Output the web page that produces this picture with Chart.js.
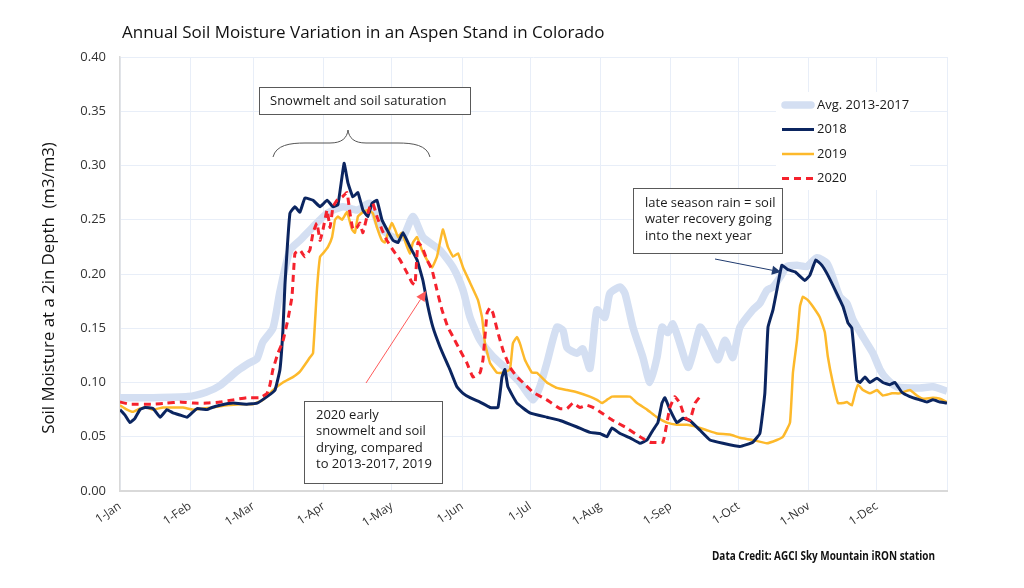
<!DOCTYPE html>
<html>
<head>
<meta charset="utf-8">
<script src="https://cdn.jsdelivr.net/npm/chart.js@4.4.1/dist/chart.umd.min.js"></script>
<style>
  body { margin: 0; background: #fff; }
  canvas { display: block; }
</style>
</head>
<body>
<canvas id="soilChart" width="1024" height="588"></canvas>
<script>
// month starts as day-of-year, plus the end of the year for the last gridline
const monthDays = [0, 31, 59, 90, 120, 151, 181, 212, 243, 273, 304, 334, 365];
const monthLabels = ['1-Jan', '1-Feb', '1-Mar', '1-Apr', '1-May', '1-Jun', '1-Jul', '1-Aug', '1-Sep', '1-Oct', '1-Nov', '1-Dec', ''];
const yTickValues = [0, 0.05, 0.10, 0.15, 0.20, 0.25, 0.30, 0.35, 0.40];

// Avg. 2013-2017
const avgDays = [0, 13, 30, 38, 44, 52, 57, 60.5, 63, 67.5, 70.6, 75, 79.4, 85, 91.4, 98.4, 104.6, 110.3, 114.7, 120.5,
  124.9, 129.3, 133.7, 141.2, 147, 151.4, 154.5, 158.9, 164.6, 170.8, 176.5, 182.3, 185.3, 188.4, 192.8, 195.5, 197.3, 201.7, 204.3, 207.4,
  210.5, 214, 216.2, 220.7, 222.9, 226.4, 230.8, 233.9, 237, 239.2, 241.8, 244, 247.1, 250.7, 252.9, 256, 258.2, 261.7, 264, 267,
  270.5, 273.6, 279.3, 282.4, 285.5, 288.2, 291.3, 294.4, 298.8, 303.2, 307.6, 312, 314.6, 317.7, 320.8, 323.5, 327.9, 332.3, 335.4, 338.5,
  342.9, 353, 358.8, 365];
const avgValues = [0.086, 0.086, 0.087, 0.091, 0.097, 0.111, 0.118, 0.122, 0.137, 0.150, 0.184, 0.222, 0.231, 0.243, 0.256, 0.262, 0.259, 0.265, 0.243, 0.234,
  0.234, 0.253, 0.234, 0.222, 0.206, 0.185, 0.160, 0.139, 0.124, 0.112, 0.100, 0.084, 0.096, 0.118, 0.151, 0.148, 0.132, 0.127, 0.131, 0.113,
  0.167, 0.160, 0.182, 0.188, 0.182, 0.151, 0.123, 0.100, 0.123, 0.151, 0.146, 0.154, 0.136, 0.114, 0.127, 0.151, 0.145, 0.130, 0.121, 0.139,
  0.123, 0.151, 0.167, 0.173, 0.185, 0.188, 0.197, 0.207, 0.208, 0.207, 0.215, 0.210, 0.197, 0.179, 0.173, 0.158, 0.142, 0.127, 0.112, 0.103,
  0.096, 0.095, 0.096, 0.092];

// 2018
const days2018 = [0, 2.2, 4.4, 6.6, 8.8, 11, 14.6, 17.7, 20.7, 23.4, 26.5, 29.6, 34, 38.4, 40.6, 44.1, 49.9, 56, 60.5, 64.9,
  68.4, 70.6, 71.9, 72.8, 75, 77.2, 79.4, 81.6, 85.2, 88.3, 91.4, 94, 96.2, 98.9, 100.6, 102.8, 105, 107.2, 109.4, 111.2,
  113.4, 115.6, 117.8, 120.5, 122.7, 124.9, 128, 131.1, 133.7, 135.9, 138.1, 141.2, 144.3, 145.6, 148.7, 151.4, 154.5, 158.9, 163.3, 166.8,
  168.6, 169.9, 171.2, 175.2, 180.9, 188.4, 194.2, 201.7, 207.4, 211.8, 214.9, 217.1, 220.7, 225.1, 229.5, 232.6, 235.2, 237.4, 239.2, 240.5,
  242.7, 245.8, 248.5, 251.5, 256, 260.4, 266.1, 273.6, 279.3, 282.4, 284.6, 286, 288.2, 289.9, 292.1, 294.8, 297.9, 302.3, 304.5, 307.1,
  309.8, 312.4, 316.4, 319.1, 321.3, 323, 325.2, 326.6, 328.8, 331, 334.1, 336.7, 339.8, 342, 345.1, 348.6, 353, 356.1, 358.8, 361.9, 365];
const values2018 = [0.075, 0.070, 0.063, 0.067, 0.075, 0.077, 0.076, 0.068, 0.075, 0.072, 0.070, 0.068, 0.076, 0.075, 0.077, 0.079, 0.081, 0.080, 0.081, 0.087,
  0.093, 0.112, 0.148, 0.190, 0.256, 0.262, 0.257, 0.270, 0.268, 0.262, 0.268, 0.262, 0.264, 0.302, 0.284, 0.271, 0.275, 0.259, 0.253, 0.265,
  0.268, 0.250, 0.241, 0.231, 0.229, 0.238, 0.225, 0.213, 0.194, 0.170, 0.151, 0.133, 0.118, 0.112, 0.096, 0.090, 0.086, 0.082, 0.077, 0.077,
  0.105, 0.112, 0.096, 0.081, 0.072, 0.068, 0.065, 0.059, 0.054, 0.053, 0.050, 0.058, 0.053, 0.049, 0.044, 0.047, 0.056, 0.063, 0.081, 0.086,
  0.075, 0.063, 0.067, 0.065, 0.056, 0.047, 0.044, 0.041, 0.045, 0.053, 0.090, 0.151, 0.167, 0.185, 0.208, 0.204, 0.202, 0.194, 0.199, 0.213,
  0.208, 0.199, 0.182, 0.170, 0.155, 0.150, 0.102, 0.100, 0.105, 0.100, 0.104, 0.100, 0.098, 0.100, 0.091, 0.087, 0.084, 0.082, 0.084, 0.082, 0.081];

// 2019
const days2019 = [0, 3.1, 5.7, 8.8, 11.9, 14.6, 19, 23.4, 27.8, 32.2, 36.6, 41, 47.2, 53, 58.7, 63.1, 67.5, 71.9, 76.3, 79.4,
  83.8, 85.2, 86.9, 88.3, 89.6, 91.8, 93.6, 94.9, 96.2, 98, 100.2, 102.4, 103.7, 105, 107.2, 109.4, 111.6, 113.4, 115.6, 116.9,
  118.3, 120, 121.4, 122.7, 124.4, 126.7, 128, 129.3, 131.1, 133.3, 135.5, 137.7, 139.9, 142.5, 144.7, 147, 149.2, 151.4, 154.5, 158,
  159.8, 161.1, 163.3, 166.4, 169, 172.1, 173.4, 175.2, 176.5, 178.7, 181.8, 184, 188.4, 192.8, 197.3, 201.7, 207.4, 210.5, 212.7, 214.9,
  217.1, 220.7, 225.1, 228.2, 232.6, 237, 241.4, 245.8, 250.2, 254.6, 259, 263.5, 269.2, 273.6, 279.3, 285.5, 289.9, 292.6, 295.7, 297,
  298.8, 300.1, 301.4, 303.6, 305.8, 308.9, 311.1, 312.4, 314.6, 316.9, 319.1, 320.8, 323, 324.4, 325.7, 327.9, 331, 334.1, 336.7, 340.7,
  344.2, 348.6, 351.7, 354.4, 358.8, 361.9, 365];
const values2019 = [0.079, 0.075, 0.073, 0.076, 0.077, 0.075, 0.077, 0.077, 0.077, 0.075, 0.076, 0.077, 0.079, 0.080, 0.080, 0.084, 0.093, 0.100, 0.105, 0.110,
  0.123, 0.127, 0.185, 0.216, 0.219, 0.225, 0.234, 0.250, 0.253, 0.250, 0.257, 0.241, 0.238, 0.253, 0.257, 0.259, 0.256, 0.243, 0.231, 0.229,
  0.238, 0.247, 0.241, 0.234, 0.238, 0.225, 0.219, 0.229, 0.234, 0.222, 0.213, 0.206, 0.216, 0.241, 0.225, 0.216, 0.219, 0.206, 0.192, 0.176,
  0.160, 0.136, 0.118, 0.109, 0.109, 0.112, 0.136, 0.142, 0.136, 0.121, 0.109, 0.109, 0.100, 0.095, 0.093, 0.091, 0.087, 0.084, 0.081, 0.084,
  0.087, 0.087, 0.087, 0.081, 0.075, 0.068, 0.063, 0.061, 0.061, 0.059, 0.056, 0.053, 0.052, 0.049, 0.047, 0.044, 0.047, 0.050, 0.063, 0.109,
  0.139, 0.170, 0.179, 0.176, 0.170, 0.160, 0.146, 0.124, 0.100, 0.081, 0.081, 0.082, 0.079, 0.090, 0.098, 0.093, 0.090, 0.093, 0.088, 0.090,
  0.090, 0.093, 0.088, 0.085, 0.086, 0.085, 0.082];

// 2020 (record stops mid-September)
const days2020 = [0, 4.4, 14.6, 20.7, 26.5, 32.2, 38.4, 44.1, 49.9, 56, 61.8, 64.9, 66.2, 67.5, 69.7, 71.9, 74.1, 75.9, 77.2, 79.4,
  81.6, 83.8, 85.2, 86.9, 88.3, 89.6, 91.4, 92.7, 94, 95.8, 98, 100.2, 101.5, 102.8, 104.6, 105.9, 107.2, 109, 110.3, 111.6,
  113.4, 115.6, 117.8, 120.5, 123.6, 126.7, 128.9, 130.2, 131.5, 133.3, 135.5, 137.7, 139.9, 142.1, 144.7, 147, 150, 153.1, 155.8, 158.9,
  160.2, 162, 163.3, 164.6, 166.8, 169, 172.1, 175.2, 177.8, 182.3, 188.4, 194.2, 197.3, 199.9, 203, 206.1, 208.7, 211.8, 217.6, 223.7,
  229.5, 233.9, 239.6, 241.4, 242.7, 244.9, 247.1, 249.3, 251.5, 253.8, 256];
const values2020 = [0.082, 0.080, 0.080, 0.081, 0.082, 0.081, 0.081, 0.082, 0.084, 0.086, 0.086, 0.090, 0.098, 0.112, 0.127, 0.138, 0.158, 0.179, 0.219, 0.222,
  0.216, 0.222, 0.238, 0.247, 0.231, 0.241, 0.259, 0.243, 0.262, 0.268, 0.271, 0.275, 0.256, 0.241, 0.243, 0.247, 0.238, 0.253, 0.262, 0.265,
  0.253, 0.241, 0.231, 0.222, 0.213, 0.201, 0.192, 0.190, 0.229, 0.225, 0.213, 0.204, 0.185, 0.167, 0.151, 0.142, 0.130, 0.118, 0.105, 0.109,
  0.121, 0.164, 0.169, 0.164, 0.146, 0.130, 0.114, 0.105, 0.100, 0.091, 0.084, 0.076, 0.076, 0.081, 0.077, 0.079, 0.077, 0.073, 0.065, 0.058,
  0.050, 0.045, 0.045, 0.063, 0.077, 0.087, 0.081, 0.068, 0.065, 0.081, 0.087];

const FONT = '"Open Sans", "DejaVu Sans", sans-serif';

function toPoints(days, values) {
  return days.map((d, i) => ({ x: d, y: values[i] }));
}

function drawArrow(ctx, x1, y1, x2, y2, color, head) {
  const ang = Math.atan2(y2 - y1, x2 - x1);
  ctx.save();
  ctx.strokeStyle = color;
  ctx.fillStyle = color;
  ctx.lineWidth = 1;
  ctx.beginPath();
  ctx.moveTo(x1, y1);
  ctx.lineTo(x2 - Math.cos(ang) * head, y2 - Math.sin(ang) * head);
  ctx.stroke();
  ctx.beginPath();
  ctx.moveTo(x2, y2);
  ctx.lineTo(x2 - head * Math.cos(ang) + head * 0.5 * Math.sin(ang), y2 - head * Math.sin(ang) - head * 0.5 * Math.cos(ang));
  ctx.lineTo(x2 - head * Math.cos(ang) - head * 0.5 * Math.sin(ang), y2 - head * Math.sin(ang) + head * 0.5 * Math.cos(ang));
  ctx.closePath();
  ctx.fill();
  ctx.restore();
}

function textBox(ctx, x, y, w, h, lines, tx, ty, lh) {
  ctx.save();
  ctx.fillStyle = '#fff';
  ctx.fillRect(x, y, w, h);
  ctx.strokeStyle = '#595959';
  ctx.lineWidth = 1;
  ctx.strokeRect(x + 0.5, y + 0.5, w, h);
  ctx.fillStyle = '#1a1a1a';
  ctx.font = '13px ' + FONT;
  ctx.textBaseline = 'middle';
  lines.forEach((l, i) => ctx.fillText(l, tx, ty + i * lh));
  ctx.restore();
}

// titles, legend, notes
const extras = {
  id: 'extras',
  afterDraw(chart) {
    const ctx = chart.ctx;
    ctx.save();
    ctx.fillStyle = '#111';
    ctx.font = '17px ' + FONT;
    ctx.textBaseline = 'middle';
    ctx.fillText('Annual Soil Moisture Variation in an Aspen Stand in Colorado', 122, 33);

    ctx.save();
    ctx.translate(49, 288);
    ctx.rotate(-Math.PI / 2);
    ctx.textAlign = 'center';
    ctx.font = '16.8px ' + FONT;
    ctx.fillText('Soil Moisture at a 2in Depth  (m3/m3)', 0, 0);
    ctx.restore();

    ctx.font = 'bold 12px ' + FONT;
    ctx.textAlign = 'right';
    ctx.fillStyle = '#111';
    ctx.fillText('Data Credit: AGCI Sky Mountain iRON station', 935, 557, 223);
    ctx.restore();

    // legend
    ctx.save();
    ctx.fillStyle = '#fff';
    ctx.fillRect(776, 92, 134, 98);
    chart.data.datasets.forEach((ds, i) => {
      const y = 105 + i * 24.5;
      ctx.strokeStyle = ds.borderColor;
      ctx.lineWidth = ds.borderWidth;
      ctx.setLineDash(ds.borderDash || []);
      ctx.lineCap = i === 0 ? 'round' : 'butt';
      ctx.beginPath();
      ctx.moveTo(i === 0 ? 785 : 782, y);
      ctx.lineTo(i === 0 ? 811 : 814, y);
      ctx.stroke();
      ctx.setLineDash([]);
      ctx.fillStyle = '#1a1a1a';
      ctx.font = '13px ' + FONT;
      ctx.textBaseline = 'middle';
      ctx.fillText(ds.label, 817, y);
    });
    ctx.restore();

    // snowmelt note with curly brace
    textBox(ctx, 259, 87, 211, 27, ['Snowmelt and soil saturation'], 270, 101, 0);
    ctx.save();
    ctx.strokeStyle = '#555';
    ctx.lineWidth = 1;
    ctx.beginPath();
    ctx.moveTo(273, 157);
    ctx.bezierCurveTo(276, 145, 290, 143, 305, 143);
    ctx.lineTo(330, 143);
    ctx.bezierCurveTo(342, 143, 347, 138, 348, 130);
    ctx.bezierCurveTo(349, 138, 354, 143, 366, 143);
    ctx.lineTo(398, 143);
    ctx.bezierCurveTo(413, 143, 427, 145, 430, 157);
    ctx.stroke();
    ctx.restore();

    textBox(ctx, 633, 188, 149, 65,
      ['late season rain = soil', 'water recovery going', 'into the next year'], 645, 203, 16.5);
    drawArrow(ctx, 715, 259, 781, 272, '#1f3a6e', 9);

    drawArrow(ctx, 366, 383, 426, 291, '#ff5a5a', 10);
    textBox(ctx, 304, 401, 138, 82,
      ['2020 early', 'snowmelt and soil', 'drying, compared', 'to 2013-2017, 2019'], 316, 415, 16.4);
  }
};

const ctx = document.getElementById('soilChart').getContext('2d');
const soilChart = new Chart(ctx, {
  type: 'line',
  data: {
    datasets: [
      { label: 'Avg. 2013-2017', data: toPoints(avgDays, avgValues), borderColor: '#d4dff2', borderWidth: 7.5, order: 4, tension: 0.2 },
      { label: '2018', data: toPoints(days2018, values2018), borderColor: '#0b2560', borderWidth: 3, order: 2, tension: 0.1 },
      { label: '2019', data: toPoints(days2019, values2019), borderColor: '#fdb92b', borderWidth: 2.5, order: 3, tension: 0.1 },
      { label: '2020', data: toPoints(days2020, values2020), borderColor: '#f5222d', borderWidth: 3, borderDash: [7, 5], order: 1, tension: 0.1 }
    ]
  },
  options: {
    responsive: false,
    animation: false,
    elements: { point: { radius: 0 }, line: { borderJoinStyle: 'round', borderCapStyle: 'butt' } },
    layout: { padding: { top: 57, right: 77, bottom: 0, left: 0 } },
    plugins: { legend: { display: false }, tooltip: { enabled: false }, title: { display: false } },
    scales: {
      x: {
        type: 'linear',
        min: 0,
        max: 365,
        afterFit: s => { s.height = 97; },
        afterBuildTicks: s => { s.ticks = monthDays.map(v => ({ value: v })); },
        grid: { color: '#e8eef8', lineWidth: 1, drawTicks: false },
        border: { color: '#d9d9d9', width: 2 },
        ticks: {
          autoSkip: false,
          minRotation: 34,
          maxRotation: 34,
          padding: 8,
          color: '#333',
          font: { family: FONT, size: 12 },
          callback: (v, i) => monthLabels[i]
        }
      },
      y: {
        min: 0,
        max: 0.4,
        afterFit: s => { s.width = 120; },
        afterBuildTicks: s => { s.ticks = yTickValues.map(v => ({ value: v })); },
        grid: { color: '#e8eef8', lineWidth: 1, drawTicks: false },
        border: { color: '#d9d9d9', width: 1.5 },
        ticks: {
          padding: 14,
          color: '#333',
          font: { family: FONT, size: 13 },
          callback: v => v.toFixed(2)
        }
      }
    }
  },
  plugins: [extras]
});
</script>
</body>
</html>
